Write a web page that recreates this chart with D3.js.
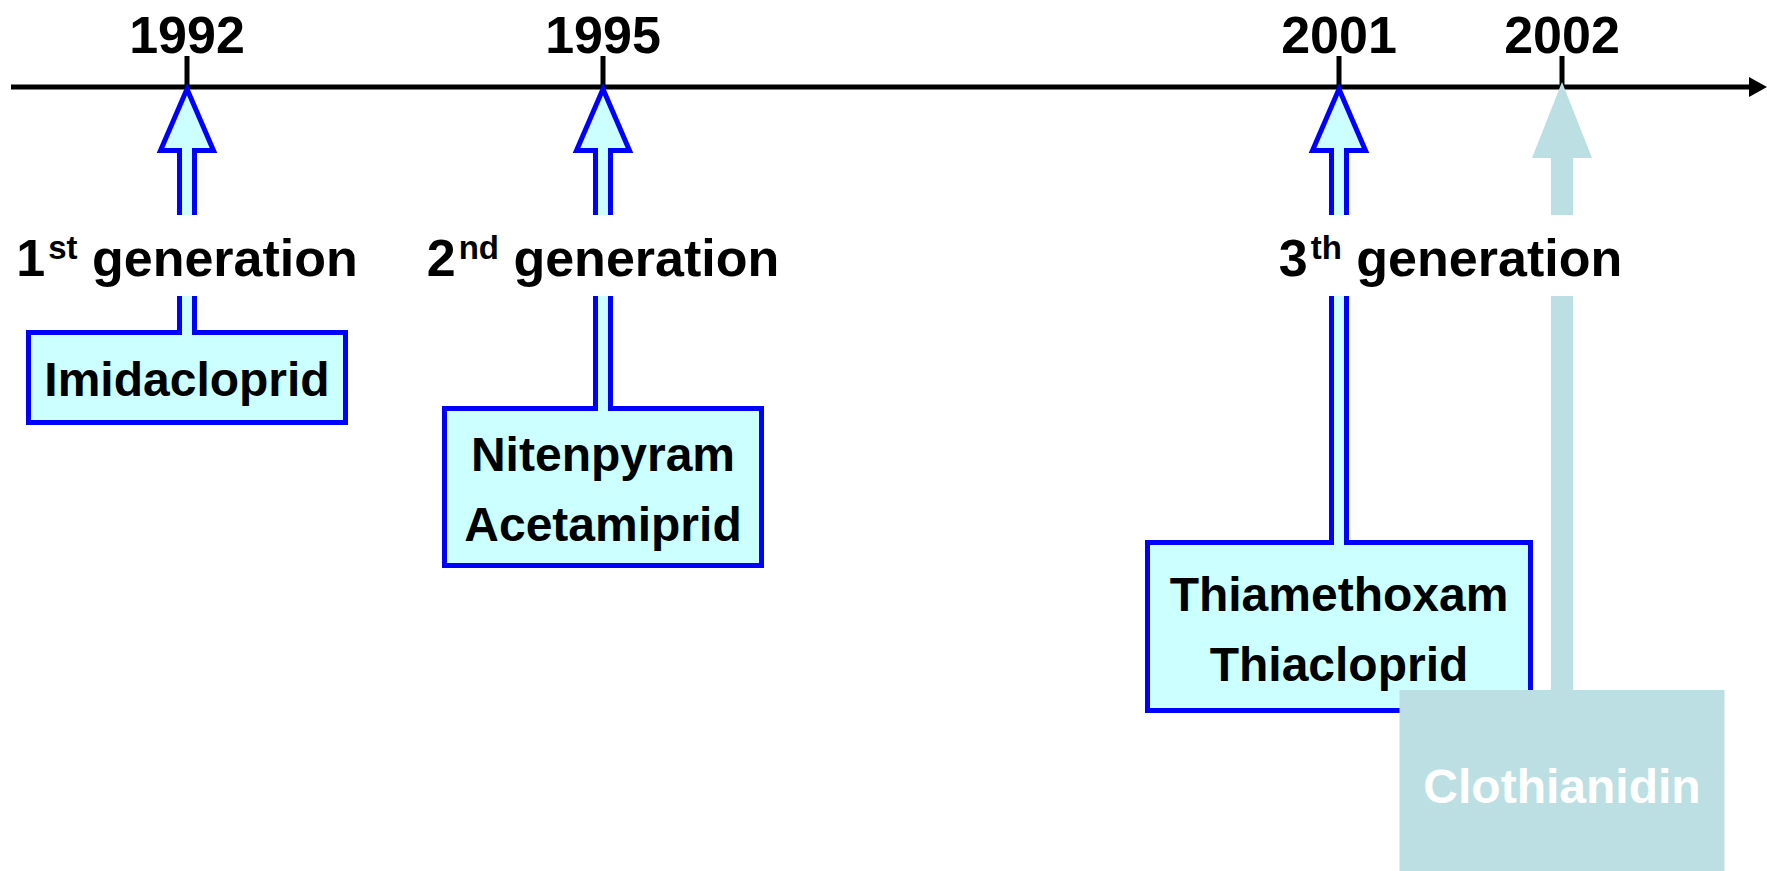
<!DOCTYPE html>
<html>
<head>
<meta charset="utf-8">
<script src="https://cdn.jsdelivr.net/npm/d3@7"></script>
<style>
    html, body { margin: 0; padding: 0; background: #fff; }
    text { font-family: "Liberation Sans", Arial, sans-serif; font-weight: bold; }
</style>
</head>
<body>
<div id="chart"></div>
<script>
// data
var years = [1992, 1995, 2001, 2002];
var compounds = [
    ["Imidacloprid"],
    ["Nitenpyram", "Acetamiprid"],
    ["Thiamethoxam", "Thiacloprid"],
    ["Clothianidin"]
];
var genNumbers = ["1", "2", "3"];
var genSuffix = ["st", "nd", "th"];
var genYears = [[1992], [1995], [2001, 2002]];

var WIDTH = 1767,
    HEIGHT = 871,
    AXIS_Y = 87;

var BLUE = "#0000FF",
    CYAN = "#CCFFFF",
    TEAL = "#BBDFE3";

// layout of the callout boxes (one per year)
var boxTop = [332.5, 408.5, 542.5, 690],
    boxW = [317, 317, 383, 325],
    boxH = [90, 157, 168, 190],
    faded = [false, false, false, true];

// years are not evenly spaced on the original drawing
var x = d3.scaleLinear()
    .domain(years)
    .range([187, 603, 1339, 1562]);

var svg = d3.select("#chart")
    .append("svg")
    .attr("width", WIDTH)
    .attr("height", HEIGHT)
    .style("display", "block");

svg.append("rect")
    .attr("width", WIDTH)
    .attr("height", HEIGHT)
    .attr("fill", "#fff");

// time axis
svg.append("line")
    .attr("x1", 11)
    .attr("x2", 1752)
    .attr("y1", AXIS_Y)
    .attr("y2", AXIS_Y)
    .attr("stroke", "#000")
    .attr("stroke-width", 5);

svg.append("path")
    .attr("d", "M1749," + (AXIS_Y - 10) + "L1767," + AXIS_Y + "L1749," + (AXIS_Y + 10) + "Z")
    .attr("fill", "#000");

svg.selectAll(".tick")
    .data(years)
    .enter()
    .append("line")
    .attr("class", "tick")
    .attr("x1", function(d) { return x(d); })
    .attr("x2", function(d) { return x(d); })
    .attr("y1", 56)
    .attr("y2", AXIS_Y)
    .attr("stroke", "#000")
    .attr("stroke-width", 5);

svg.selectAll(".year")
    .data(years)
    .enter()
    .append("text")
    .attr("class", "year")
    .attr("x", function(d) { return x(d); })
    .attr("y", 53)
    .attr("text-anchor", "middle")
    .attr("font-size", 52)
    .attr("fill", "#000")
    .text(function(d) { return d; });

// arrow + box as one outline
function calloutPath(i) {
    var cx = x(years[i]);
    var hw = faded[i] ? 30 : 26.5,
        sw = faded[i] ? 11 : 7.5,
        base = faded[i] ? 158 : 150.5,
        tip = faded[i] ? 82 : 89;
    var top = boxTop[i],
        left = cx - boxW[i] / 2,
        right = cx + boxW[i] / 2,
        bottom = top + boxH[i];
    var p = d3.path();
    p.moveTo(cx, tip);
    p.lineTo(cx + hw, base);
    p.lineTo(cx + sw, base);
    p.lineTo(cx + sw, top);
    p.lineTo(right, top);
    p.lineTo(right, bottom);
    p.lineTo(left, bottom);
    p.lineTo(left, top);
    p.lineTo(cx - sw, top);
    p.lineTo(cx - sw, base);
    p.lineTo(cx - hw, base);
    p.closePath();
    return p.toString();
}

var events = d3.range(years.length);

var callout = svg.selectAll(".callout")
    .data(events)
    .enter()
    .append("g")
    .attr("class", "callout");

callout.append("path")
    .attr("d", function(i) { return calloutPath(i); })
    .attr("fill", function(i) { return faded[i] ? TEAL : CYAN; })
    .attr("stroke", function(i) { return faded[i] ? "none" : BLUE; })
    .attr("stroke-width", 5)
    .attr("stroke-linejoin", "miter");

callout.each(function(i) {
    var g = d3.select(this);
    var names = compounds[i];
    var mid = boxTop[i] + boxH[i] / 2;
    var n = names.length;
    g.selectAll("text")
        .data(names)
        .enter()
        .append("text")
        .attr("x", x(years[i]))
        .attr("y", function(d, k) { return mid + 18 + (k - (n - 1) / 2) * 70 + (n > 1 ? 1 : 0); })
        .attr("text-anchor", "middle")
        .attr("font-size", 48)
        .attr("fill", faded[i] ? "#fff" : "#000")
        .text(function(d) { return d; });
});

// generation labels sit on a white patch that cuts the arrows
var gen = svg.selectAll(".gen")
    .data(genNumbers)
    .enter()
    .append("g")
    .attr("class", "gen");

gen.each(function(d, i) {
    var g = d3.select(this);
    var cx = d3.mean(genYears[i], function(y) { return x(y); });
    var bg = g.append("rect")
        .attr("fill", "#fff");
    var t = g.append("text")
        .attr("x", cx)
        .attr("y", 276)
        .attr("text-anchor", "middle")
        .attr("font-size", 52)
        .attr("fill", "#000");
    t.append("tspan").text(genNumbers[i]);
    t.append("tspan")
        .attr("font-size", 33)
        .attr("dy", -17)
        .attr("dx", 3)
        .text(genSuffix[i]);
    t.append("tspan")
        .attr("dy", 17)
        .text(" generation");
    var w = t.node().getComputedTextLength();
    bg.attr("x", cx - w / 2 - 8)
        .attr("y", 215)
        .attr("width", w + 16)
        .attr("height", 81);
});
</script>
</body>
</html>
